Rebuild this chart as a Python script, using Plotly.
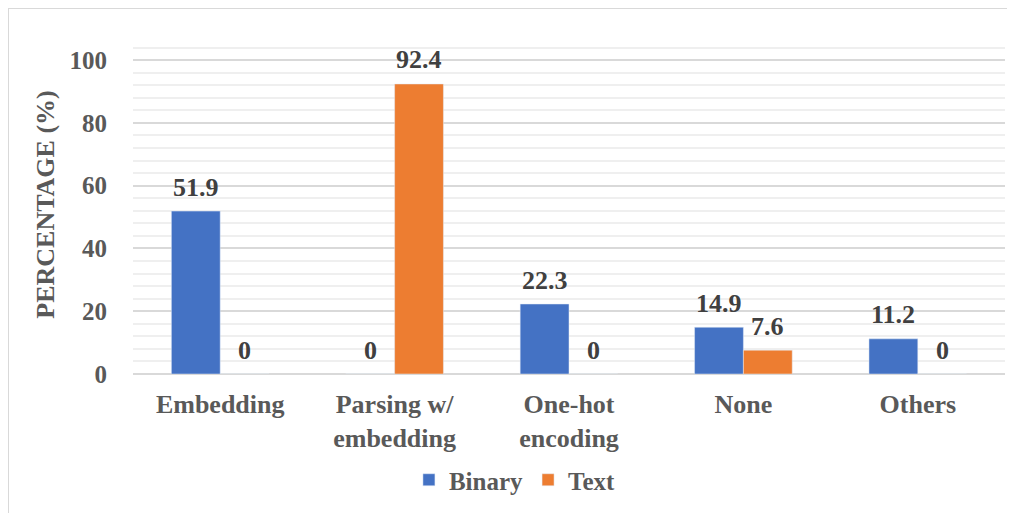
import plotly.graph_objects as go

categories = ["Embedding", "Parsing w/<br>embedding", "One-hot<br>encoding", "None", "Others"]
binary = [51.9, 0, 22.3, 14.9, 11.2]
text_vals = [0, 92.4, 0, 7.6, 0]
y_ticks = [0, 20, 40, 60, 80, 100]

FONT = "Liberation Serif"
# page has an 8px body margin; figure sized so the page is 1015x513
W, H = 1007, 505
L, R, T, B = 125, 10, 27, 139
pw = W - L - R
ph = H - T - B
BARGAP = 0.44

lbl_font = dict(family=FONT, size=26, color="#404040", weight="bold")
axis_font = dict(family=FONT, size=25, color="#595959", weight="bold")

fig = go.Figure()
fig.add_trace(go.Bar(x=categories, y=binary, name="Binary", marker_color="#4472C4"))
fig.add_trace(go.Bar(x=categories, y=text_vals, name="Text", marker_color="#ED7D31"))

off = (1 - BARGAP) / 4
for series, sign in ((binary, -1), (text_vals, 1)):
    for i, v in enumerate(series):
        fig.add_annotation(x=i + sign * off, y=v, xref="x", yref="y",
                           text=f"{v:g}", showarrow=False, yanchor="middle",
                           yshift=24, font=lbl_font)

fig.update_layout(
    width=W, height=H,
    margin=dict(l=L, r=R, t=T, b=B, autoexpand=False),
    paper_bgcolor="white", plot_bgcolor="white",
    barmode="group", bargap=BARGAP, bargroupgap=0,
    font=axis_font,
    legend=dict(orientation="h", x=0.438, xanchor="center",
                yref="container", y=1 - 472 / H, yanchor="middle",
                font=dict(family=FONT, size=25, color="#595959", weight="bold")),
)
fig.update_yaxes(
    range=[0, 108], tickvals=y_ticks, showgrid=True, gridcolor="#d9d9d9", gridwidth=2,
    zeroline=True, zerolinecolor="#d9d9d9", zerolinewidth=2,
    minor=dict(dtick=4, tick0=0, showgrid=True, gridcolor="#efefef", gridwidth=2),
    tickfont=axis_font, automargin=False,
    ticklabelstandoff=25,
    title=dict(text="PERCENTAGE (%)", font=dict(family=FONT, size=26, color="#595959", weight="bold"), standoff=7),
)
fig.update_xaxes(
    showgrid=False, showline=False, automargin=False,
    tickfont=dict(family=FONT, size=26, color="#595959", weight="bold"),
    ticklabelstandoff=12,
)
# outer frame (left and top edges)
fig.add_shape(type="line", xref="paper", yref="paper",
              x0=(0 - L) / pw, x1=(0 - L) / pw, y0=(H - B) / ph, y1=-B / ph,
              line=dict(color="#d9d9d9", width=2))
fig.add_shape(type="line", xref="paper", yref="paper",
              x0=(0 - L) / pw, x1=(W - L) / pw, y0=(H - B) / ph, y1=(H - B) / ph,
              line=dict(color="#d9d9d9", width=2))

fig.write_html("out.html")
